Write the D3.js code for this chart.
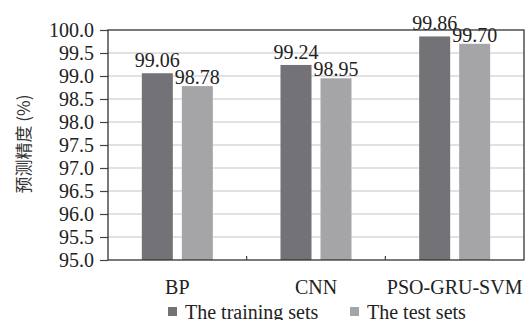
<!DOCTYPE html>
<html><head><meta charset="utf-8">
<script src="https://cdn.jsdelivr.net/npm/d3@7"></script>
<style>body{margin:0;background:#fff}svg{display:block}
.sf{font-family:"Liberation Serif","Times New Roman","DejaVu Serif",serif !important;}
</style>
</head><body>
<svg id="c" width="529" height="320"></svg>
<script>
const categories = ["BP", "CNN", "PSO-GRU-SVM"];
const seriesNames = ["The training sets", "The test sets"];
const trainingValues = [99.06, 99.24, 99.86];
const testValues = [98.78, 98.95, 99.70];
const yTicks = [95.0, 95.5, 96.0, 96.5, 97.0, 97.5, 98.0, 98.5, 99.0, 99.5, 100.0];
const yLabel = "预测精度 (%)";
const colors = ["#737377", "#a5a5a8"];

const svg = d3.select("#c");
const m = {l: 108, r: 524, t: 30, b: 260};

const x = d3.scaleBand().domain(categories).range([m.l, m.r]).paddingInner(0).paddingOuter(0);
const y = d3.scaleLinear().domain([95, 100]).range([m.b, m.t]);
const bw = x.bandwidth();
const x1 = d3.scaleBand().domain(seriesNames).range([bw/2 - 35.5, bw/2 + 35.5]).paddingInner(0.225);

// gridlines
svg.append("g").selectAll("line").data(yTicks.slice(1, -1)).join("line")
  .attr("x1", m.l).attr("x2", m.r).attr("y1", d => y(d)).attr("y2", d => y(d))
  .attr("stroke", "#d9d9d9").attr("stroke-width", 1.5);

const data = categories.map((c, i) => ({c, vals: [trainingValues[i], testValues[i]]}));
const g = svg.append("g").selectAll("g").data(data).join("g")
  .attr("transform", d => `translate(${x(d.c)},0)`);
g.selectAll("rect").data(d => d.vals.map((v, j) => ({v, s: seriesNames[j], j}))).join("rect")
  .attr("x", d => x1(d.s)).attr("width", x1.bandwidth())
  .attr("y", d => y(d.v)).attr("height", d => y(95) - y(d.v))
  .attr("fill", d => colors[d.j]);
g.selectAll("text").data(d => d.vals.map((v, j) => ({v, s: seriesNames[j], j}))).join("text")
  .attr("class", "sf")
  .attr("x", d => x1(d.s) + x1.bandwidth()/2)
  .attr("y", d => y(d.v) - (d.j === 0 ? 6 : 2))
  .attr("text-anchor", "middle").style("font-size", "20px")
  .attr("fill", "#222").text(d => d.v.toFixed(2));

// y axis
const ya = svg.append("g").attr("transform", `translate(${m.l},0)`)
  .call(d3.axisLeft(y).tickValues(yTicks).tickFormat(d3.format(".1f")).tickSize(8).tickPadding(6));
ya.attr("font-family", null).attr("font-size", null);
ya.select(".domain").remove();
ya.selectAll(".tick line").attr("stroke", "#444").attr("stroke-width", 1.2);
ya.selectAll("text").attr("class", "sf").style("font-size", "20px").attr("fill", "#222");

// x axis
const xa = svg.append("g").attr("transform", `translate(0,${m.b})`)
  .call(d3.axisBottom(x).tickSize(0).tickPadding(20));
xa.attr("font-family", null).attr("font-size", null);
xa.select(".domain").remove();
xa.selectAll("text").attr("class", "sf").style("font-size", "20px").attr("fill", "#222");
svg.append("g").selectAll("line").data(categories.slice(1)).join("line")
  .attr("x1", d => x(d)).attr("x2", d => x(d)).attr("y1", m.b).attr("y2", m.b - 4)
  .attr("stroke", "#444").attr("stroke-width", 1.2);

// frame
svg.append("rect").attr("x", m.l).attr("y", m.t).attr("width", m.r - m.l).attr("height", m.b - m.t)
  .attr("fill", "none").attr("stroke", "#333").attr("stroke-width", 1.3);

// y label
svg.append("text").attr("transform", `translate(30,${(m.t + m.b)/2 - 1}) rotate(-90)`)
  .attr("text-anchor", "middle").style("font-family", "'Noto Sans CJK SC', serif").style("font-size", "17px")
  .attr("fill", "#333").text(yLabel);

// legend
const legX = [168, 350];
const lg = svg.append("g").selectAll("g").data(seriesNames).join("g")
  .attr("transform", (d, i) => `translate(${legX[i]},0)`);
lg.append("rect").attr("x", 0).attr("y", 307).attr("width", 9).attr("height", 9).attr("fill", (d, i) => colors[i]);
lg.append("text").attr("class", "sf").attr("x", 17).attr("y", 319).style("font-size", "20px")
  .attr("fill", "#222").text(d => d);
</script>
</body></html>
